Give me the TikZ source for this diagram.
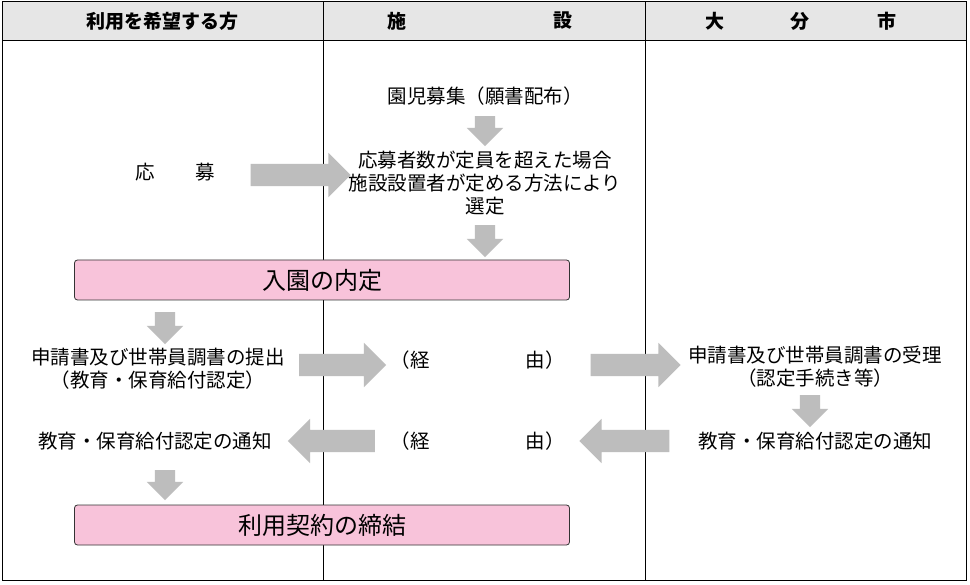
\documentclass[tikz,border=0pt]{standalone}
\usepackage{fontspec}
\setmainfont{Noto Sans CJK JP}
\usetikzlibrary{shapes.arrows}
\definecolor{arr}{HTML}{BDBDBD}
\definecolor{pinkf}{HTML}{F8C3DA}
\definecolor{hdr}{HTML}{E6E6E6}
\begin{document}
\begin{tikzpicture}[x=1pt,y=-1pt,
  t/.style={font=\fontsize{19.5}{23}\selectfont,inner sep=0pt},
  h/.style={font=\bfseries\fontsize{19}{22}\selectfont,inner sep=1pt},
  pbox/.style={draw=black!80,line width=0.8pt,fill=pinkf,rounded corners=3pt,font=\fontsize{24}{26}\selectfont},
  ar/.style={single arrow,fill=arr,draw=none,single arrow head extend=11pt,minimum height=#1,inner xsep=0pt,inner ysep=11pt,single arrow tip angle=90},
  ard/.style={single arrow,fill=arr,draw=none,single arrow head extend=8pt,minimum height=#1,inner ysep=0pt,inner xsep=10pt,single arrow tip angle=90,shape border rotate=270},
  arl/.style={ar=#1,shape border rotate=180}]
\useasboundingbox (0,0) rectangle (970,585);
\fill[white] (0,0) rectangle (970,585);
\fill[hdr] (2,2) rectangle (966,40);
\draw[line width=1pt] (2,2) rectangle (966,580);
\draw[line width=0.8pt] (2,40) -- (966,40);
\draw[line width=0.8pt] (323,2) -- (323,580) (645,2) -- (645,580);
\node[h] (h1) at (162,21) {利用を希望する方};
\node[h] (h2a) at (397,21) {施};
\node[h] (h2b) at (563,21) {設};
\node[h] (h3a) at (715,21) {大};
\node[h] (h3b) at (800,21) {分};
\node[h] (h3c) at (887,21) {市};
\node[t] (n1) at (485,96) {園児募集（願書配布）};
\node[ard=30pt] (a1) at (485,126) {};
\node[t] (o1) at (145,172) {応};
\node[t] (o2) at (205,172) {募};
\node[ar=100pt] (a2) at (295,175) {};
\node[t,align=center] (n2) at (485,183) {応募者数が定員を超えた場合\\施設設置者が定める方法により\\選定};
\node[ard=32pt] (a3) at (485,236) {};
\node[pbox,minimum width=495pt,minimum height=40pt] (p1) at (322,280) {入園の内定};
\node[ard=32pt] (a4) at (165,323) {};
\node[t,align=center] (n3) at (158,369) {申請書及び世帯員調書の提出\\（教育・保育給付認定）};
\node[ar=87pt] (a5) at (337,365) {};
\node[t] (k1) at (410,360) {（経};
\node[t] (k2) at (545,360) {由）};
\node[ar=90pt] (a6) at (630,365) {};
\node[t,align=center] (n4) at (815,367) {申請書及び世帯員調書の受理\\（認定手続き等）};
\node[ard=32pt] (a7) at (810,406) {};
\node[t] (n5) at (815,441) {教育・保育給付認定の通知};
\node[arl=90pt] (a8) at (630,441) {};
\node[t] (k3) at (410,441) {（経};
\node[t] (k4) at (545,441) {由）};
\node[arl=87pt] (a9) at (337,441) {};
\node[t] (n6) at (155,441) {教育・保育給付認定の通知};
\node[ard=30pt] (a10) at (165,480) {};
\node[pbox,minimum width=495pt,minimum height=40pt] (p2) at (322,525) {利用契約の締結};
\end{tikzpicture}
\end{document}
